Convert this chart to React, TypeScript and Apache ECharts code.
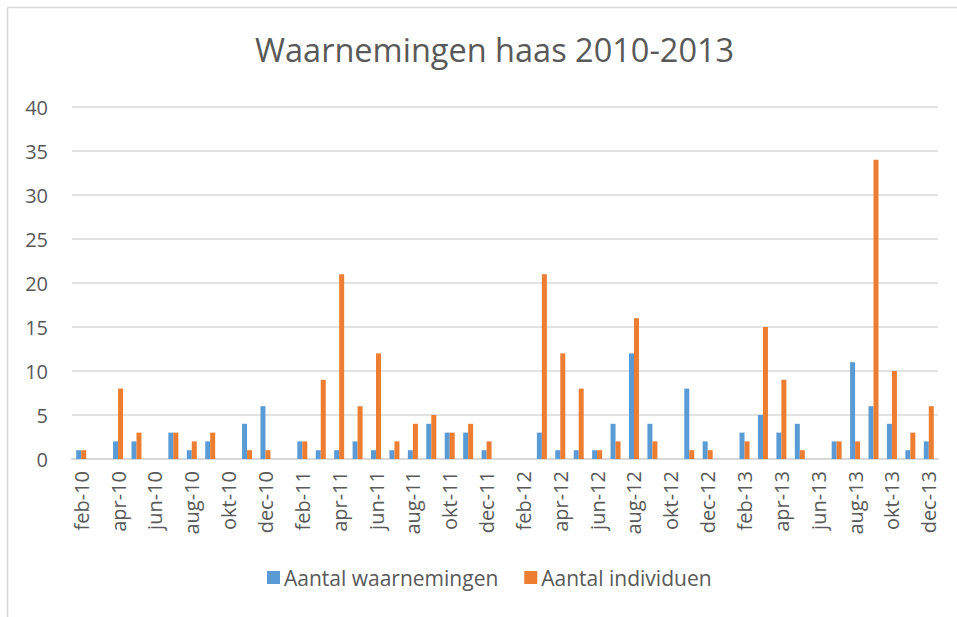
import React, { useEffect, useRef } from "react";
import * as echarts from "echarts";

const months = ["jan", "feb", "mrt", "apr", "mei", "jun", "jul", "aug", "sep", "okt", "nov", "dec"];
const years = ["10", "11", "12", "13"];
const categories: string[] = [];
years.forEach((y) => months.forEach((m) => categories.push(`${m}-${y}`)));
categories.shift(); // data starts at feb-10

const waarnemingen = [
  1, null, 2, 2, null, 3, 1, 2, null, 4, 6,
  null, 2, 1, 1, 2, 1, 1, 1, 4, 3, 3, 1,
  null, null, 3, 1, 1, 1, 4, 12, 4, null, 8, 2,
  null, 3, 5, 3, 4, null, 2, 11, 6, 4, 1, 2,
];
const individuen = [
  1, null, 8, 3, null, 3, 2, 3, null, 1, 1,
  null, 2, 9, 21, 6, 12, 2, 4, 5, 3, 4, 2,
  null, null, 21, 12, 8, 1, 2, 16, 2, null, 1, 1,
  null, 2, 15, 9, 1, null, 2, 2, 34, 10, 3, 6,
];
const seriesNames = ["Aantal waarnemingen", "Aantal individuen"];
const title = "Waarnemingen haas 2010-2013";

const FONT = "'Open Sans', 'Liberation Sans', sans-serif";
const TXT = "#595959";

export default function App() {
  const ref = useRef<HTMLDivElement>(null);
  useEffect(() => {
    if (!ref.current) return;
    const chart = echarts.init(ref.current, undefined, { renderer: "svg" });
    chart.setOption({
      animation: false,
      backgroundColor: "#ffffff",
      title: {
        text: title,
        left: 250,
        top: 28,
        textStyle: { fontFamily: FONT, fontSize: 32.5, fontWeight: "normal", color: TXT },
      },
      graphic: [
        {
          type: "rect",
          shape: { x: 7.5, y: 7.5, width: 1000, height: 700 },
          style: { fill: "none", stroke: "#d9d9d9", lineWidth: 1.5 },
          silent: true,
        },
      ],
      legend: {
        bottom: 24,
        left: 262,
        itemWidth: 13,
        itemHeight: 13,
        itemGap: 26,
        icon: "rect",
        textStyle: { fontFamily: FONT, fontSize: 21, color: TXT, padding: [0, 0, 0, -1] },
        data: seriesNames,
      },
      grid: { left: 72, right: 19, top: 107, bottom: 158 },
      xAxis: {
        type: "category",
        data: categories,
        axisLine: { lineStyle: { color: "#d9d9d9", width: 2 } },
        axisTick: { show: false },
        axisLabel: {
          interval: 1,
          rotate: 90,
          margin: 12,
          fontFamily: FONT,
          fontSize: 20,
          color: TXT,
        },
      },
      yAxis: {
        type: "value",
        min: 0,
        max: 40,
        interval: 5,
        axisLine: { show: false },
        axisTick: { show: false },
        splitLine: { lineStyle: { color: "#d9d9d9", width: 1.5 } },
        axisLabel: { margin: 24, fontFamily: FONT, fontSize: 20, color: TXT },
      },
      series: [
        {
          name: seriesNames[0],
          type: "bar",
          data: waarnemingen,
          barWidth: 5,
          barGap: "0%",
          itemStyle: { color: "#5B9BD5" },
        },
        {
          name: seriesNames[1],
          type: "bar",
          data: individuen,
          barWidth: 5,
          barGap: "0%",
          itemStyle: { color: "#ED7D31" },
        },
      ],
    });
    return () => chart.dispose();
  }, []);
  return (
    <div
      ref={ref}
      style={{ position: "fixed", left: 0, top: 0, width: 957, height: 617 }}
    />
  );
}
